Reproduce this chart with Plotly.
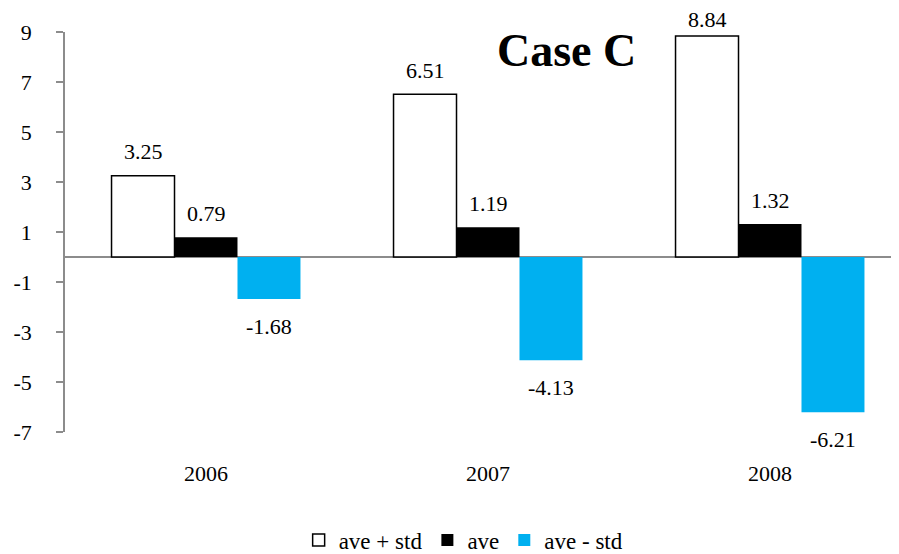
import plotly.graph_objects as go

years = ["2006", "2007", "2008"]
ave_plus_std = [3.25, 6.51, 8.84]
ave = [0.79, 1.19, 1.32]
ave_minus_std = [-1.68, -4.13, -6.21]
y_ticks = [9, 7, 5, 3, 1, -1, -3, -5, -7]

FONT = "Liberation Serif"
AXIS = "#8c8c8c"

fig = go.Figure()
fig.add_bar(name="ave + std", x=years, y=ave_plus_std,
            marker=dict(color="white", line=dict(color="black", width=1.5)))
fig.add_bar(name="ave", x=years, y=ave,
            marker=dict(color="black", line=dict(color="black", width=0)))
fig.add_bar(name="ave - std", x=years, y=ave_minus_std,
            marker=dict(color="#00B0F0", line=dict(color="#00B0F0", width=0)))

bar_px = 63
series = [ave_plus_std, ave, ave_minus_std]
for si, vals in enumerate(series):
    for xi, v in enumerate(vals):
        shift = 24 if v >= 0 else -27
        if v > 8:
            shift = 17
        fig.add_annotation(x=xi, y=v, text=f"{v:.2f}", showarrow=False,
                           xshift=(si - 1) * bar_px, yshift=shift,
                           font=dict(family=FONT, size=22, color="black"))

fig.add_annotation(x=0.601, y=1.0, xref="paper", yref="paper", text="<b>Case C</b>",
                   showarrow=False, yshift=-18, yanchor="middle",
                   font=dict(family=FONT, size=46, color="black"))

fig.update_layout(
    width=891, height=546,
    margin=dict(l=57, r=0, t=24, b=122, autoexpand=False),
    paper_bgcolor="white", plot_bgcolor="white",
    barmode="group", bargap=0.33, bargroupgap=0,
    font=dict(family=FONT, size=22, color="black"),
    showlegend=True,
    legend=dict(orientation="h", x=0.478, xanchor="center", y=-0.27, yanchor="middle",
                font=dict(family=FONT, size=23), traceorder="normal"),
)
fig.update_xaxes(type="category", range=[-0.5, -0.5 + 834 / 282], showline=False,
                 showgrid=False, ticks="", zeroline=False, ticklabelstandoff=26,
                 tickfont=dict(family=FONT, size=22))
fig.update_yaxes(range=[-7, 9], tickvals=y_ticks, ticktext=[str(t) for t in y_ticks],
                 showgrid=False, showline=True, linecolor=AXIS, linewidth=1.5,
                 ticks="outside", ticklen=7, tickcolor=AXIS, tickwidth=1.5,
                 zeroline=True, zerolinecolor=AXIS, zerolinewidth=1.5,
                 tickfont=dict(family=FONT, size=22), ticklabelstandoff=20)

fig.write_html("out.html")
